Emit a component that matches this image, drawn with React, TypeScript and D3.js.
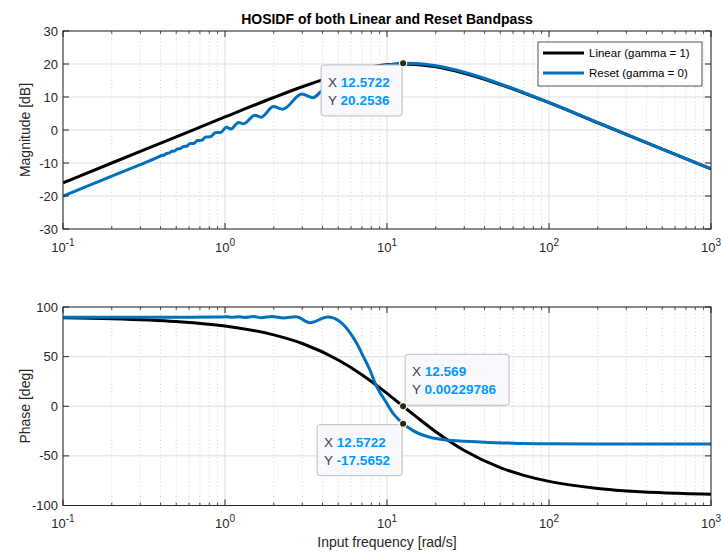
import React from "react";
import * as d3 from "d3";

// ---------- data ----------
const linMagFreq = [0.1, 0.2, 0.5, 1, 2, 3, 5, 7, 10, 12.57, 15, 20, 30, 50, 70, 100, 200, 500, 1000];
const linMagDb = [-16, -10, -2.05, 3.95, 9.85, 13.1, 16.7, 18.6, 19.8, 20.0, 19.85, 19.15, 17.2, 13.8, 11.2, 8.3, 2.2, -5.8, -11.8];

const resMagFreq = [
  0.1, 0.15, 0.2, 0.3, 0.38, 0.406, 0.42, 0.435, 0.452, 0.469, 0.488, 0.508, 0.53, 0.554, 0.58,
  0.61, 0.64, 0.677, 0.715, 0.762, 0.81, 0.871, 0.94, 1.02, 1.09, 1.21, 1.3, 1.53, 1.67, 1.99,
  2.27, 2.98, 3.5, 3.9, 4.5, 5.2, 6.0, 7.0, 8.0, 10, 12.57, 15, 20, 30, 50, 70, 100, 200, 500, 1000,
];
const resMagDb = [
  -20.0, -16.5, -14.0, -10.5, -8.4, -7.73, -7.64, -7.12, -7.02, -6.46, -6.36, -5.74, -5.66, -4.98, -4.9,
  -4.1, -4.08, -3.17, -3.14, -2.1, -2.08, -0.82, -0.74, 0.8, 0.3, 2.3, 1.9, 4.5, 3.9, 7.1,
  6.3, 10.9, 9.8, 11.6, 14.0, 16.2, 17.6, 17.8, 18.3, 19.6, 20.25, 20.15, 19.45, 17.5, 14.0, 11.35, 8.4, 2.25, -5.8, -11.8,
];

const linPhFreq = [0.1, 0.2, 0.5, 1, 2, 3, 5, 7, 10, 12.57, 15, 20, 30, 50, 70, 100, 200, 500, 1000];
const linPhDeg = [89.1, 88.2, 85.4, 80.9, 71.9, 63.2, 46.6, 31.8, 13.0, 0, -10.0, -25.7, -44.6, -61.8, -69.6, -75.7, -82.8, -87.1, -88.6];

const resPhFreq = [
  0.1, 0.3, 0.6, 0.9, 1.02, 1.1, 1.21, 1.32, 1.5, 1.68, 1.95, 2.3, 2.75, 3.35, 4.3, 5.13, 5.8, 6.5,
  7.2, 7.85, 8.43, 9.96, 11, 12.57, 14.5, 18.4, 23.3, 37.5, 60, 100, 300, 1000,
];
const resPhDeg = [
  89.6, 89.6, 89.7, 89.8, 90.2, 89.6, 90.3, 89.4, 90.4, 89.2, 90.5, 88.9, 90.3, 84.2, 89.8, 85.2, 76, 63.4,
  49, 36.5, 23.5, 3, -8, -17.57, -24.6, -31.3, -34, -35.9, -37.2, -37.7, -38, -38,
];

const xTickExps = [-1, 0, 1, 2, 3];
const magTicks = [-30, -20, -10, 0, 10, 20, 30];
const phTicks = [-100, -50, 0, 50, 100];
const legendLabels = ["Linear (gamma = 1)", "Reset (gamma = 0)"];
const tipMag = { x: 12.5722, y: 20.2536, xs: "12.5722", ys: "20.2536" };
const tipPhLin = { x: 12.569, y: 0.00229786, xs: "12.569", ys: "0.00229786" };
const tipPhRes = { x: 12.5722, y: -17.5652, xs: "12.5722", ys: "-17.5652" };

const TITLE = "HOSIDF of both Linear and Reset Bandpass";

// ---------- styling ----------
const FONT = "'Liberation Sans', Arial, Helvetica, sans-serif";
const AX = "#262626";
const BLUE = "#0072BD";
const TIPBLUE = "#0099FF";
const GRID = "#dfdfdf";
const MINOR = "#c8c8c8";

const W = 721;
const H = 555;
const L = 63;
const R = 711;

const x = d3.scaleLog().domain([0.1, 1000]).range([L, R]);
const yMag = d3.scaleLinear().domain([-30, 30]).range([229, 31]);
const yPh = d3.scaleLinear().domain([-100, 100]).range([505.5, 307]);

const zip = (a: number[], b: number[]) => a.map((v, i) => [v, b[i]] as [number, number]);

const minorTicks: number[] = [];
for (let e = -1; e < 3; e++) {
  for (let k = 2; k <= 9; k++) minorTicks.push(k * Math.pow(10, e));
}

function Panel({ y, ticks, label, series, clipId }: any) {
  const [y0, y1] = y.range();
  const top = y1;
  const bot = y0;
  const line = d3
    .line<[number, number]>()
    .x((d) => x(d[0]))
    .y((d) => y(d[1]))
    .curve(d3.curveMonotoneX);
  return (
    <g>
      <defs>
        <clipPath id={clipId}>
          <rect x={L} y={top} width={R - L} height={bot - top} />
        </clipPath>
      </defs>
      <rect x={L} y={top} width={R - L} height={bot - top} fill="#fff" />
      {/* minor grid */}
      {minorTicks.map((t) => (
        <line key={"mg" + t} x1={x(t)} x2={x(t)} y1={top} y2={bot} stroke={MINOR} strokeWidth={0.8} strokeDasharray="1 2.5" />
      ))}
      {/* major grid */}
      {xTickExps.map((e) => (
        <line key={"xg" + e} x1={x(Math.pow(10, e))} x2={x(Math.pow(10, e))} y1={top} y2={bot} stroke={GRID} strokeWidth={1} />
      ))}
      {ticks.map((t: number) => (
        <line key={"yg" + t} x1={L} x2={R} y1={y(t)} y2={y(t)} stroke={GRID} strokeWidth={1} />
      ))}
      {/* series */}
      <g clipPath={`url(#${clipId})`}>
        {series.map((s: any, i: number) => (
          <path key={i} d={line(s.data) || ""} fill="none" stroke={s.color} strokeWidth={3} strokeLinejoin="round" />
        ))}
      </g>
      {/* frame */}
      <rect x={L} y={top} width={R - L} height={bot - top} fill="none" stroke={AX} strokeWidth={1} />
      {/* x ticks */}
      {minorTicks.map((t) => (
        <g key={"mt" + t}>
          <line x1={x(t)} x2={x(t)} y1={bot} y2={bot - 3} stroke={AX} strokeWidth={0.8} />
          <line x1={x(t)} x2={x(t)} y1={top} y2={top + 3} stroke={AX} strokeWidth={0.8} />
        </g>
      ))}
      {xTickExps.map((e) => {
        const px = x(Math.pow(10, e));
        return (
          <g key={"xt" + e}>
            <line x1={px} x2={px} y1={bot} y2={bot - 6} stroke={AX} strokeWidth={1} />
            <line x1={px} x2={px} y1={top} y2={top + 6} stroke={AX} strokeWidth={1} />
            <text x={px} y={bot + 22.5} textAnchor="middle" fontFamily={FONT} fontSize={13} fill={AX}>
              <tspan>10</tspan>
              <tspan dy={-6} fontSize={10}>{String(e)}</tspan>
            </text>
          </g>
        );
      })}
      {/* y ticks */}
      {ticks.map((t: number) => (
        <g key={"yt" + t}>
          <line x1={L} x2={L + 6} y1={y(t)} y2={y(t)} stroke={AX} strokeWidth={1} />
          <line x1={R} x2={R - 6} y1={y(t)} y2={y(t)} stroke={AX} strokeWidth={1} />
          <text x={L - 5} y={y(t) + 4.6} textAnchor="end" fontFamily={FONT} fontSize={13} fill={AX}>
            {String(t)}
          </text>
        </g>
      ))}
      <text
        transform={`translate(30,${(top + bot) / 2}) rotate(-90)`}
        textAnchor="middle"
        fontFamily={FONT}
        fontSize={14}
        fill={AX}
      >
        {label}
      </text>
    </g>
  );
}

function DataTip({ px, py, bx, by, w, xs, ys }: any) {
  return (
    <g>
      <rect x={bx} y={by} width={w} height={51} rx={3} ry={3} fill="#f9f9fd" stroke="#b9b9bf" strokeWidth={1} />
      <text x={bx + 7} y={by + 22} fontFamily={FONT} fontSize={13.5} fill="#404040">
        X <tspan fill={TIPBLUE} fontWeight="bold">{xs}</tspan>
      </text>
      <text x={bx + 7} y={by + 40} fontFamily={FONT} fontSize={13.5} fill="#404040">
        Y <tspan fill={TIPBLUE} fontWeight="bold">{ys}</tspan>
      </text>
      <circle cx={px} cy={py} r={3.6} fill="#262626" stroke="#ffffd0" strokeWidth={1.2} />
    </g>
  );
}

export default function App() {
  const magSeries = [
    { data: zip(linMagFreq, linMagDb), color: "#000000" },
    { data: zip(resMagFreq, resMagDb), color: BLUE },
  ];
  const phSeries = [
    { data: zip(linPhFreq, linPhDeg), color: "#000000" },
    { data: zip(resPhFreq, resPhDeg), color: BLUE },
  ];
  const t1x = x(tipMag.x), t1y = yMag(tipMag.y);
  const t2x = x(tipPhLin.x), t2y = yPh(tipPhLin.y);
  const t3x = x(tipPhRes.x), t3y = yPh(tipPhRes.y);
  return (
    <svg width={W} height={H} style={{ position: "absolute", left: 0, top: 0, background: "#fff" }}>
      <rect x={0} y={0} width={W} height={H} fill="#fff" />
      <text x={(L + R) / 2} y={23.5} textAnchor="middle" fontFamily={FONT} fontSize={14} fontWeight="bold" fill="#000">
        {TITLE}
      </text>
      <Panel y={yMag} ticks={magTicks} label="Magnitude [dB]" series={magSeries} clipId="clipMag" />
      <Panel y={yPh} ticks={phTicks} label="Phase [deg]" series={phSeries} clipId="clipPh" />
      <text x={(L + R) / 2} y={547} textAnchor="middle" fontFamily={FONT} fontSize={14} fill={AX}>
        Input frequency [rad/s]
      </text>
      {/* legend */}
      <g>
        <rect x={538} y={42} width={164} height={44} fill="#fff" stroke={AX} strokeWidth={0.8} />
        {legendLabels.map((lab, i) => (
          <g key={lab}>
            <line x1={543} x2={584} y1={53 + i * 20} y2={53 + i * 20} stroke={i === 0 ? "#000" : BLUE} strokeWidth={3} />
            <text x={589} y={57 + i * 20} fontFamily={FONT} fontSize={11.5} fill="#000">
              {lab}
            </text>
          </g>
        ))}
      </g>
      <DataTip px={t1x} py={t1y} bx={t1x - 82} by={t1y + 1.8} w={81} xs={tipMag.xs} ys={tipMag.ys} />
      <DataTip px={t2x} py={t2y} bx={t2x + 2} by={t2y - 52} w={104} xs={tipPhLin.xs} ys={tipPhLin.ys} />
      <DataTip px={t3x} py={t3y} bx={t3x - 86} by={t3y + 1} w={85} xs={tipPhRes.xs} ys={tipPhRes.ys} />
    </svg>
  );
}
